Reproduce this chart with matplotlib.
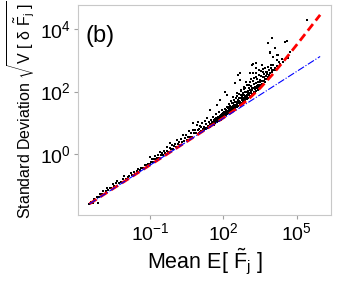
import matplotlib
matplotlib.use('Agg')
import matplotlib.pyplot as plt
import numpy as np

plt.rcParams['font.family'] = ['Liberation Sans', 'DejaVu Sans']
plt.rcParams['mathtext.fontset'] = 'custom'
plt.rcParams['mathtext.rm'] = 'Liberation Sans'
plt.rcParams['mathtext.it'] = 'Liberation Sans'
plt.rcParams['mathtext.bf'] = 'Liberation Sans:bold'

# scatter points (log10 of mean, log10 of std)
log_mean = [
    -3.48, -3.42, -3.35, -3.30, -3.25, -3.18, -3.12, -3.10, -3.05, -2.98,
    -2.92, -2.85, -2.80, -2.74, -2.70, -2.62, -2.58, -2.52, -2.47, -2.40,
    -2.33, -2.28, -2.20, -2.12, -2.05, -1.98, -1.92, -1.85, -1.78, -1.72,
    -1.65, -1.60, -1.55, -1.48, -1.42, -1.35, -1.28, -1.22, -1.15, -1.08,
    -1.01, -1.00,
    -0.95, -0.90, -0.86, -0.82, -0.78, -0.74, -0.70, -0.66, -0.62, -0.59,
    -0.55, -0.50, -0.46, -0.42, -0.38, -0.32, -0.30, -0.25, -0.20, -0.18,
    -0.14, -0.10, -0.06, -0.02, 0.02, 0.06, 0.10, 0.14, 0.18, 0.22,
    0.26, 0.30, 0.34, 0.38, 0.42, 0.46, 0.50, 0.54, 0.58, 0.62,
    0.66, 0.70, 0.74, 0.77, 0.80, 0.84, 0.88, 0.92, 0.96, 0.97,
    1.00, 1.02, 1.04, 1.06, 1.08, 1.10, 1.12, 1.14, 1.16, 1.18,
    1.20, 1.22, 1.24, 1.26, 1.28, 1.30, 1.31, 1.33, 1.35, 1.37,
    1.39, 1.41, 1.43, 1.45, 1.46, 1.48, 1.50, 1.52, 1.54, 1.56,
    1.58, 1.60, 1.62, 1.64, 1.66, 1.68, 1.70, 1.72, 1.73, 1.75,
    1.77, 1.79, 1.81, 1.83, 1.85, 1.86, 1.88, 1.90, 1.92, 1.94,
    1.96, 1.98, 2.00,
    1.51, 1.55, 1.59, 1.63, 1.67, 1.71, 1.74, 1.78, 1.82, 1.84,
    1.87, 1.91, 1.93, 1.97, 1.99,
    2.02, 2.04, 2.05, 2.06, 2.08, 2.10, 2.12, 2.13, 2.14, 2.16,
    2.18, 2.20, 2.22, 2.24, 2.26, 2.28, 2.30, 2.32, 2.34, 2.36,
    2.38, 2.40, 2.42, 2.44, 2.46, 2.47, 2.48, 2.50, 2.52, 2.54,
    2.56, 2.58, 2.60, 2.60, 2.62, 2.64, 2.66, 2.67, 2.67, 2.68,
    2.70, 2.72, 2.74, 2.76, 2.78, 2.80, 2.82, 2.84, 2.86, 2.88,
    2.90, 2.92, 2.94, 2.96, 2.98, 3.00,
    2.03, 2.07, 2.09, 2.11, 2.15, 2.17, 2.19, 2.21, 2.23, 2.25,
    2.27, 2.29, 2.31, 2.33, 2.35, 2.37, 2.39, 2.41, 2.43, 2.45,
    2.49, 2.51, 2.53, 2.55, 2.57, 2.59, 2.61, 2.63, 2.65, 2.69,
    2.71, 2.73, 2.75, 2.77, 2.79, 2.81, 2.83, 2.85, 2.87, 2.89,
    2.91, 2.93, 2.95, 2.97, 2.99,
    3.02, 3.04, 3.06, 3.08, 3.08, 3.10, 3.12, 3.14, 3.15, 3.16,
    3.18, 3.20, 3.22, 3.22, 3.24, 3.26, 3.28, 3.30, 3.32, 3.34,
    3.35, 3.35, 3.37, 3.40, 3.42, 3.44, 3.46, 3.48, 3.50, 3.52,
    3.54, 3.56, 3.57, 3.60, 3.62, 3.62, 3.65, 3.67, 3.69, 3.70,
    3.73, 3.76, 3.78, 3.80, 3.83, 3.83, 3.86, 3.88, 3.90, 3.90,
    3.92, 3.95, 3.97, 3.97, 4.00,
    3.03, 3.05, 3.07, 3.09, 3.11, 3.13, 3.17, 3.19, 3.21, 3.25,
    3.27, 3.31, 3.33, 3.36, 3.39, 3.43, 3.45, 3.49, 3.53, 3.58,
    3.61, 3.64, 3.68, 3.72, 3.75, 3.79, 3.85, 3.89, 3.93, 3.99,
    4.03, 4.03, 4.05, 4.10, 4.10, 4.12, 4.17, 4.17, 4.20, 4.24,
    4.28, 4.32, 4.40, 4.44, 4.51, 4.58, 4.65, 4.70, 5.40,
]
log_std = [
    -1.59, -1.52, -1.555, -1.44, -1.455, -1.36, -1.58, -1.37, -1.275, -1.29,
    -1.19, -1.275, -1.18, -1.08, -1.16, -1.07, -1.08, -0.96, -1.005, -0.92,
    -0.855, -0.92, -0.88, -0.81, -0.705, -0.81, -0.72, -0.715, -0.61, -0.67,
    -0.575, -0.63, -0.555, -0.48, -0.51, -0.445, -0.46, -0.34, -0.365, -0.31,
    -0.09, -0.31,
    -0.255, -0.17, -0.25, -0.16, -0.06, -0.17, -0.11, -0.04, -0.14, 0.075,
    -0.045, 0.02, -0.04, 0.11, 0.03, 0.22, 0.10, 0.075, 0.19, 0.34,
    0.16, 0.29, 0.15, 0.25, 0.32, 0.24, 0.44, 0.31, 0.37, 0.30,
    0.48, 0.40, 0.60, 0.41, 0.51, 0.60, 0.45, 0.54, 0.75, 0.55,
    0.66, 0.53, 0.77, 0.98, 0.66, 0.77, 0.66, 0.94, 0.77, 1.03,
    0.68, 0.80, 0.72, 0.91, 0.75, 0.86, 0.71, 0.98, 0.80, 0.74,
    0.88, 0.78, 1.05, 0.83, 0.79, 0.95, 1.14, 0.84, 0.90, 0.82,
    1.02, 0.88, 0.96, 1.41, 0.86, 1.10, 0.92, 0.99, 0.94, 1.20,
    0.97, 1.05, 0.93, 1.13, 1.00, 1.28, 1.03, 1.57, 1.10, 1.02,
    1.19, 1.07, 1.34, 1.06, 1.15, 1.73, 1.10, 1.25, 1.12, 1.42,
    1.14, 1.22, 1.17,
    0.96, 1.04, 1.00, 1.08, 1.06, 1.15, 1.08, 1.12, 1.18, 1.10,
    1.22, 1.18, 1.28, 1.20, 1.32,
    1.22, 1.35, 1.99, 1.27, 1.45, 1.24, 1.31, 1.89, 1.52, 1.28,
    1.38, 1.30, 1.60, 1.33, 1.44, 1.36, 1.70, 1.40, 1.52, 1.38,
    1.47, 1.83, 1.43, 1.58, 1.45, 2.26, 1.66, 1.49, 1.55, 1.95,
    1.50, 1.72, 2.53, 1.55, 1.62, 1.80, 1.57, 2.37, 2.58, 1.68,
    2.05, 1.62, 1.76, 1.90, 1.66, 1.72, 2.15, 1.68, 1.84, 1.98,
    1.72, 1.79, 2.30, 1.76, 1.88, 2.02,
    1.28, 1.33, 1.40, 1.30, 1.38, 1.46, 1.34, 1.42, 1.50, 1.37,
    1.55, 1.42, 1.48, 1.62, 1.45, 1.55, 1.50, 1.64, 1.52, 1.72,
    1.58, 1.65, 1.78, 1.60, 1.85, 1.66, 1.74, 1.92, 1.70, 1.78,
    1.88, 2.02, 1.72, 1.82, 1.95, 1.78, 2.08, 1.90, 1.75, 2.10,
    1.85, 2.00, 1.82, 2.22, 1.95,
    1.80, 1.95, 2.20, 2.58, 1.82, 2.05, 1.86, 2.40, 2.85, 1.92,
    2.12, 1.90, 2.58, 2.87, 2.00, 2.25, 1.95, 2.15, 2.45, 2.02,
    2.74, 2.90, 2.10, 2.30, 2.06, 2.52, 2.15, 2.20, 2.38, 2.14,
    2.65, 2.85, 2.25, 2.45, 2.63, 2.22, 2.35, 2.55, 2.74, 2.30,
    2.48, 2.40, 2.62, 2.45, 2.79, 3.54, 2.52, 2.70, 3.22, 3.27,
    2.58, 2.85, 2.69, 3.70, 2.62,
    1.88, 2.10, 1.95, 2.30, 2.00, 2.18, 2.05, 2.35, 2.10, 2.42,
    2.08, 2.28, 2.60, 2.18, 2.40, 2.22, 2.68, 2.30, 2.50, 2.35,
    2.72, 2.45, 2.40, 2.62, 2.50, 2.55, 2.68, 2.60, 2.75, 2.70,
    2.85, 3.11, 2.70, 2.74, 3.38, 2.68, 3.01, 3.17, 2.80, 3.17,
    2.95, 2.88, 3.05, 2.95, 3.59, 3.60, 3.06, 3.25, 4.29,
]

# fitted curves (log10 units)
red_log_mean = [-3.47, -3.0, -2.0, -1.0, 0.0, 1.0, 2.0, 2.5, 3.0, 3.5, 4.0, 4.5, 5.0, 5.5, 5.95]
red_log_std = [-1.59, -1.35, -0.85, -0.35, 0.15, 0.65, 1.16, 1.43, 1.74, 2.11, 2.54, 3.01, 3.50, 4.00, 4.45]
blue_log_mean = [-3.47, 5.95]
blue_log_std = [-1.59, 3.12]

fig = plt.figure(figsize=(3.38, 2.86), dpi=100)
ax = fig.add_axes([0.231, 0.248, 0.748, 0.735])

ax.scatter(10 ** np.array(log_mean), 10 ** np.array(log_std),
           s=3.0, marker='s', c='black', linewidths=0, zorder=2)
ax.plot(10 ** np.array(red_log_mean), 10 ** np.array(red_log_std),
        color='red', lw=2.0, dashes=(3.0, 1.6), zorder=3)
ax.plot(10 ** np.array(blue_log_mean), 10 ** np.array(blue_log_std),
        color='blue', lw=0.8, linestyle='-.', zorder=4)

ax.set_xscale('log')
ax.set_yscale('log')
ax.set_xlim(10 ** -3.94, 10 ** 6.39)
ax.set_ylim(10 ** -1.95, 10 ** 4.77)
ax.set_xticks([1e-1, 1e2, 1e5])
ax.set_yticks([1e0, 1e2, 1e4])
ax.minorticks_off()

for s in ax.spines.values():
    s.set_color('#c8c8c8')
    s.set_linewidth(0.8)
ax.tick_params(direction='out', length=3, width=0.8, color='#a0a0a0',
               labelsize=14, pad=2)

ax.set_xlabel(r'Mean E[ $\tilde{\mathrm{F}}_\mathrm{j}$ ]', fontsize=15.5, labelpad=2)
ax.set_ylabel(r'Standard Deviation $\sqrt{\mathrm{V}\ [\ \delta\ \tilde{\mathrm{F}}_\mathrm{j}\ ]}$',
              fontsize=11.5, labelpad=2)
ax.text(0.03, 0.85, '(b)', transform=ax.transAxes, fontsize=17,
        va='center', ha='left')

fig.savefig('out.png', dpi=100)
